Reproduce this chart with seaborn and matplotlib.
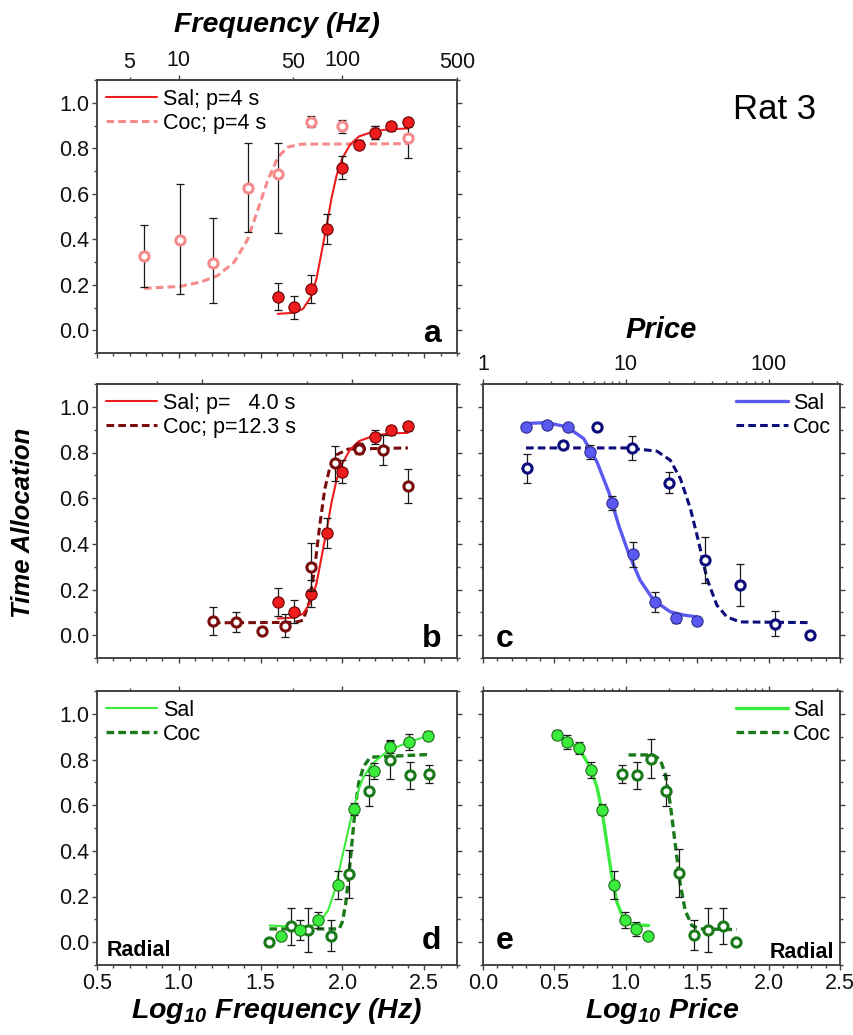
import numpy as np
import matplotlib
matplotlib.use("Agg")
import matplotlib.pyplot as plt
import seaborn as sns
from matplotlib.ticker import MultipleLocator

# ---------------- data ----------------
# Panel a : log10 frequency
a_sal_x = [1.605, 1.702, 1.806, 1.906, 1.998, 2.101, 2.199, 2.296, 2.400]
a_sal_y = [0.148, 0.101, 0.181, 0.446, 0.714, 0.816, 0.869, 0.897, 0.915]
a_sal_err = [0.06, 0.05, 0.06, 0.065, 0.05, 0.02, 0.03, 0.02, 0.02]
a_coc_x = [0.787, 1.008, 1.208, 1.421, 1.605, 1.806, 1.998, 2.199, 2.400]
a_coc_y = [0.326, 0.396, 0.294, 0.626, 0.688, 0.917, 0.896, 0.870, 0.843]
a_coc_err_lo = [0.138, 0.236, 0.174, 0.194, 0.260, 0.025, 0.030, 0.030, 0.087]
a_coc_err_hi = [0.138, 0.249, 0.199, 0.196, 0.134, 0.025, 0.030, 0.030, 0.087]
a_sal_fit_x = [1.605, 1.702, 1.759, 1.806, 1.841, 1.872, 1.906, 1.933, 1.964, 1.998, 2.046, 2.101, 2.199, 2.296, 2.400]
a_sal_fit_y = [0.072, 0.077, 0.094, 0.145, 0.225, 0.341, 0.470, 0.580, 0.680, 0.755, 0.815, 0.852, 0.876, 0.884, 0.887]
a_coc_fit_x = [0.787, 1.008, 1.135, 1.237, 1.339, 1.421, 1.483, 1.544, 1.605, 1.666, 1.749, 2.400]
a_coc_fit_y = [0.184, 0.193, 0.212, 0.240, 0.300, 0.400, 0.530, 0.660, 0.760, 0.805, 0.818, 0.820]

# Panel b
b_sal_x = [1.605, 1.702, 1.806, 1.906, 1.998, 2.101, 2.199, 2.296, 2.400]
b_sal_y = [0.146, 0.102, 0.182, 0.447, 0.715, 0.820, 0.869, 0.898, 0.915]
b_sal_err = [0.06, 0.05, 0.06, 0.065, 0.05, 0.02, 0.03, 0.02, 0.02]
b_coc_x = [1.208, 1.350, 1.509, 1.646, 1.806, 1.953, 2.101, 2.250, 2.400]
b_coc_y = [0.061, 0.058, 0.019, 0.041, 0.299, 0.752, 0.815, 0.810, 0.654]
b_coc_err = [0.062, 0.044, 0.015, 0.050, 0.104, 0.075, 0.020, 0.065, 0.075]
b_sal_fit_x = [1.605, 1.702, 1.759, 1.806, 1.841, 1.872, 1.906, 1.933, 1.964, 1.998, 2.046, 2.101, 2.199, 2.296, 2.400]
b_sal_fit_y = [0.073, 0.077, 0.094, 0.145, 0.225, 0.341, 0.470, 0.580, 0.680, 0.750, 0.812, 0.850, 0.875, 0.884, 0.886]
b_coc_fit_x = [1.208, 1.708, 1.759, 1.800, 1.831, 1.861, 1.892, 1.923, 1.964, 2.035, 2.400]
b_coc_fit_y = [0.054, 0.056, 0.065, 0.150, 0.300, 0.480, 0.640, 0.735, 0.790, 0.815, 0.820]

# Panel c : log10 price
c_sal_x = [0.301, 0.448, 0.595, 0.751, 0.903, 1.048, 1.202, 1.351, 1.498]
c_sal_y = [0.912, 0.920, 0.912, 0.803, 0.580, 0.355, 0.146, 0.073, 0.063]
c_sal_err = [0.01, 0.01, 0.01, 0.03, 0.03, 0.055, 0.045, 0.02, 0.015]
c_coc_x = [0.308, 0.558, 0.798, 1.043, 1.300, 1.552, 1.800, 2.047, 2.292]
c_coc_y = [0.730, 0.835, 0.912, 0.820, 0.667, 0.328, 0.219, 0.051, 0.000]
c_coc_err = [0.065, 0.015, 0.01, 0.052, 0.046, 0.100, 0.093, 0.053, 0.005]
c_sal_fit_x = [0.301, 0.448, 0.588, 0.705, 0.798, 0.880, 0.950, 1.020, 1.100, 1.195, 1.312, 1.405, 1.498]
c_sal_fit_y = [0.927, 0.931, 0.912, 0.861, 0.759, 0.628, 0.482, 0.358, 0.241, 0.153, 0.102, 0.088, 0.080]
c_coc_fit_x = [0.301, 1.008, 1.218, 1.312, 1.382, 1.452, 1.510, 1.568, 1.638, 1.708, 1.800, 2.292]
c_coc_fit_y = [0.820, 0.820, 0.806, 0.766, 0.686, 0.555, 0.409, 0.248, 0.131, 0.080, 0.058, 0.055]

# Panel d : log10 frequency (radial)
d_sal_x = [1.626, 1.738, 1.851, 1.970, 2.070, 2.193, 2.291, 2.408, 2.522]
d_sal_y = [0.025, 0.054, 0.098, 0.251, 0.584, 0.749, 0.854, 0.876, 0.905]
d_sal_err = [0.015, 0.045, 0.035, 0.06, 0.025, 0.035, 0.025, 0.035, 0.02]
d_coc_x = [1.554, 1.687, 1.790, 1.929, 2.040, 2.160, 2.290, 2.410, 2.530]
d_coc_y = [0.000, 0.069, 0.054, 0.029, 0.299, 0.664, 0.799, 0.730, 0.737]
d_coc_err = [0.01, 0.08, 0.095, 0.068, 0.105, 0.066, 0.085, 0.06, 0.04]
d_sal_fit_x = [1.554, 1.749, 1.851, 1.912, 1.953, 1.994, 2.020, 2.045, 2.070, 2.100, 2.127, 2.179, 2.280, 2.404, 2.527]
d_sal_fit_y = [0.073, 0.066, 0.077, 0.139, 0.226, 0.360, 0.440, 0.520, 0.590, 0.670, 0.720, 0.780, 0.839, 0.876, 0.905]
d_coc_fit_x = [1.554, 1.980, 2.000, 2.020, 2.040, 2.060, 2.080, 2.100, 2.130, 2.170, 2.530]
d_coc_fit_y = [0.058, 0.058, 0.090, 0.170, 0.300, 0.450, 0.600, 0.700, 0.770, 0.810, 0.822]

# Panel e : log10 price (radial)
e_sal_x = [0.518, 0.588, 0.669, 0.758, 0.833, 0.914, 0.991, 1.073, 1.154]
e_sal_y = [0.908, 0.876, 0.851, 0.752, 0.580, 0.251, 0.098, 0.058, 0.026]
e_sal_err = [0.02, 0.03, 0.025, 0.035, 0.025, 0.06, 0.035, 0.03, 0.01]
e_coc_x = [0.972, 1.077, 1.175, 1.280, 1.374, 1.481, 1.574, 1.679, 1.772]
e_coc_y = [0.737, 0.730, 0.803, 0.664, 0.302, 0.032, 0.054, 0.070, 0.000]
e_coc_err = [0.04, 0.06, 0.085, 0.066, 0.105, 0.066, 0.095, 0.08, 0.01]
e_sal_fit_x = [0.518, 0.611, 0.681, 0.751, 0.798, 0.833, 0.868, 0.903, 0.938, 0.984, 1.042, 1.159]
e_sal_fit_y = [0.912, 0.876, 0.839, 0.766, 0.679, 0.577, 0.431, 0.285, 0.175, 0.102, 0.077, 0.073]
e_coc_fit_x = [1.019, 1.190, 1.241, 1.276, 1.311, 1.346, 1.381, 1.416, 1.462, 1.521, 1.777]
e_coc_fit_y = [0.820, 0.820, 0.800, 0.737, 0.606, 0.431, 0.255, 0.139, 0.073, 0.058, 0.055]

freq_top_major = [10, 100]
freq_top_minor = [5, 50, 500]
price_top_major = [1, 10, 100]
price_top_minor = [2, 3, 4, 5, 6, 7, 8, 9, 20, 30, 40, 50, 60, 70, 80, 90, 200, 300]

# ---------------- style ----------------
sns.set_theme(style="ticks")
plt.rcParams["font.family"] = ["Liberation Sans", "DejaVu Sans"]
plt.rcParams["mathtext.fontset"] = "custom"
plt.rcParams["mathtext.bf"] = "Liberation Sans:italic:bold"
plt.rcParams["mathtext.rm"] = "Liberation Sans:italic:bold"
plt.rcParams["mathtext.it"] = "Liberation Sans:italic:bold"
plt.rcParams["lines.scale_dashes"] = False
plt.rcParams["text.color"] = "black"
plt.rcParams["legend.labelcolor"] = "black"

SPINE = "#444444"
ERR = "#1a1a1a"
W, H = 854, 1035
TICK_FS = 15.5
LEG_FS = 15.5
LAB_FS = 20.5

fig = plt.figure(figsize=(W / 100, H / 100), dpi=100)


def box(l, t, r, b):
    return [l / W, 1 - b / H, (r - l) / W, (b - t) / H]


axA = fig.add_axes(box(97, 80, 457, 353))
axB = fig.add_axes(box(97, 384, 457, 658))
axC = fig.add_axes(box(483, 384, 840, 658))
axD = fig.add_axes(box(97, 691, 457, 965))
axE = fig.add_axes(box(483, 691, 840, 965))


def style_axes(ax, xlim, xlabels, ylabels):
    ax.set_xlim(*xlim)
    ax.set_ylim(-0.1, 1.1)
    ax.xaxis.set_major_locator(MultipleLocator(0.5))
    ax.xaxis.set_minor_locator(MultipleLocator(0.1))
    ax.yaxis.set_major_locator(MultipleLocator(0.2))
    ax.yaxis.set_minor_locator(MultipleLocator(0.1))
    for s in ax.spines.values():
        s.set_visible(True)
        s.set_color(SPINE)
        s.set_linewidth(1.4)
    ax.tick_params(which="both", direction="out", left=True, right=True,
                   bottom=True, top=False, color=SPINE, width=1.0,
                   labelsize=TICK_FS, pad=2, labelcolor="#111111")
    ax.tick_params(which="major", length=3.8)
    ax.tick_params(which="minor", length=2.2)
    ax.tick_params(labelbottom=xlabels, labelleft=ylabels, labelright=False)
    ax.set_xlabel("")
    ax.set_ylabel("")
    ax.grid(False)


def top_axis(ax, major, minor, major_lab=None, minor_lab=None):
    sec = ax.secondary_xaxis("top")
    sec.set_xticks(major, labels=major_lab if major_lab else [""] * len(major))
    sec.set_xticks(minor, labels=minor_lab if minor_lab else [""] * len(minor), minor=True)
    sec.tick_params(which="both", direction="out", color=SPINE, width=1.0,
                    labelsize=TICK_FS, pad=3, labelcolor="#111111")
    sec.tick_params(which="major", length=3.8)
    sec.tick_params(which="minor", length=2.2)
    sec.spines["top"].set_color(SPINE)
    sec.spines["top"].set_linewidth(1.4)
    return sec


def points(ax, x, y, err, face, edge, lw, s, z):
    ax.errorbar(x, y, yerr=err, fmt="none", ecolor=ERR, elinewidth=0.9,
                capsize=2.6, capthick=0.9, zorder=z - 0.5)
    sns.scatterplot(x=x, y=y, ax=ax, color=face, edgecolor=edge, linewidth=lw,
                    s=s, zorder=z, legend=False)


def fit(ax, x, y, color, lw, dashed):
    sns.lineplot(x=x, y=y, ax=ax, color=color, linewidth=lw, sort=False,
                 estimator=None, legend=False)
    ln = ax.get_lines()[-1]
    if dashed:
        ln.set_dashes([5.5, 3.0])
    ln.set_zorder(3)
    return ln


def legend(ax, lines, labels, loc):
    ax.legend(lines, labels, loc=loc, frameon=False, fontsize=LEG_FS,
              handlelength=2.4, handletextpad=0.25, labelspacing=0.15,
              borderaxespad=0.2, borderpad=0.2, labelcolor="black")


RED = "#ee1c1c"
RED_EDGE = "#6a0000"
PINK = "#f48a8a"
MAROON = "#7a0c0c"
BLUE = "#5a5af2"
BLUE_EDGE = "#303090"
NAVY = "#0c0c7a"
GREEN = "#3cec3c"
GREEN_EDGE = "#1d6e1d"
DKGREEN = "#1a7a1a"

S_FILL = 66
S_OPEN = 44

# ---- panel a ----
style_axes(axA, (0.5, 2.7), False, True)
top_axis(axA, np.log10(freq_top_major), np.log10(freq_top_minor),
         [str(v) for v in freq_top_major], [str(v) for v in freq_top_minor])
lc = fit(axA, a_coc_fit_x, a_coc_fit_y, PINK, 2.2, True)
ls = fit(axA, a_sal_fit_x, a_sal_fit_y, RED, 1.5, False)
points(axA, a_coc_x, a_coc_y, [a_coc_err_lo, a_coc_err_hi], "white", PINK, 2.2, S_OPEN, 4)
points(axA, a_sal_x, a_sal_y, a_sal_err, RED, RED_EDGE, 0.8, S_FILL, 5)
legend(axA, [ls, lc], ["Sal; p=4 s", "Coc; p=4 s"], "upper left")
axA.text(0.956, 0.04, "a", transform=axA.transAxes, ha="right", va="baseline",
         fontsize=23, fontweight="bold")

# ---- panel b ----
style_axes(axB, (0.5, 2.7), False, True)
top_axis(axB, [1.144, 2.057], [0.867, 1.786])
lc = fit(axB, b_coc_fit_x, b_coc_fit_y, MAROON, 2.2, True)
ls = fit(axB, b_sal_fit_x, b_sal_fit_y, RED, 1.5, False)
points(axB, b_sal_x, b_sal_y, b_sal_err, RED, RED_EDGE, 0.8, S_FILL, 4)
points(axB, b_coc_x, b_coc_y, b_coc_err, "white", MAROON, 2.2, S_OPEN, 5)
legend(axB, [ls, lc], ["Sal; p=   4.0 s", "Coc; p=12.3 s"], "upper left")
axB.text(0.956, 0.04, "b", transform=axB.transAxes, ha="right", va="baseline",
         fontsize=23, fontweight="bold")

# ---- panel c ----
style_axes(axC, (0.0, 2.5), False, False)
top_axis(axC, np.log10(price_top_major), np.log10(price_top_minor),
         [str(v) for v in price_top_major], None)
lc = fit(axC, c_coc_fit_x, c_coc_fit_y, NAVY, 2.2, True)
ls = fit(axC, c_sal_fit_x, c_sal_fit_y, BLUE, 2.4, False)
points(axC, c_coc_x, c_coc_y, c_coc_err, "white", NAVY, 2.2, S_OPEN, 4)
points(axC, c_sal_x, c_sal_y, c_sal_err, BLUE, BLUE_EDGE, 0.8, S_FILL, 5)
legend(axC, [ls, lc], ["Sal", "Coc"], "upper right")
axC.text(0.036, 0.04, "c", transform=axC.transAxes, ha="left", va="baseline",
         fontsize=23, fontweight="bold")

# ---- panel d ----
style_axes(axD, (0.5, 2.7), True, True)
top_axis(axD, np.log10(freq_top_major), np.log10(freq_top_minor[:2]))
lc = fit(axD, d_coc_fit_x, d_coc_fit_y, DKGREEN, 2.4, True)
ls = fit(axD, d_sal_fit_x, d_sal_fit_y, GREEN, 1.5, False)
points(axD, d_coc_x, d_coc_y, d_coc_err, "white", DKGREEN, 2.2, S_OPEN, 4)
points(axD, d_sal_x, d_sal_y, d_sal_err, GREEN, GREEN_EDGE, 0.8, S_FILL, 5)
legend(axD, [ls, lc], ["Sal", "Coc"], "upper left")
axD.text(0.956, 0.058, "d", transform=axD.transAxes, ha="right", va="baseline",
         fontsize=23, fontweight="bold")
axD.text(0.028, 0.033, "Radial", transform=axD.transAxes, ha="left", va="baseline",
         fontsize=15.5, fontweight="bold")

# ---- panel e ----
style_axes(axE, (0.0, 2.5), True, False)
top_axis(axE, np.log10(price_top_major), np.log10(price_top_minor))
lc = fit(axE, e_coc_fit_x, e_coc_fit_y, DKGREEN, 2.4, True)
ls = fit(axE, e_sal_fit_x, e_sal_fit_y, GREEN, 2.4, False)
points(axE, e_coc_x, e_coc_y, e_coc_err, "white", DKGREEN, 2.2, S_OPEN, 4)
points(axE, e_sal_x, e_sal_y, e_sal_err, GREEN, GREEN_EDGE, 0.8, S_FILL, 5)
legend(axE, [ls, lc], ["Sal", "Coc"], "upper right")
axE.text(0.036, 0.058, "e", transform=axE.transAxes, ha="left", va="baseline",
         fontsize=23, fontweight="bold")
axE.text(0.983, 0.026, "Radial", transform=axE.transAxes, ha="right", va="baseline",
         fontsize=15.5, fontweight="bold")

# ---- figure texts ----
fig.text(277 / W, 1 - 32 / H, "Frequency (Hz)", ha="center", va="baseline",
         fontsize=LAB_FS, fontweight="bold", style="italic")
fig.text(661 / W, 1 - 338 / H, "Price", ha="center", va="baseline",
         fontsize=LAB_FS + 0.5, fontweight="bold", style="italic")
fig.text(277 / W, 1 - 1018 / H, r"$\mathbf{Log_{10}\ Frequency\ (Hz)}$",
         ha="center", va="baseline", fontsize=LAB_FS)
fig.text(662 / W, 1 - 1018 / H, r"$\mathbf{Log_{10}\ Price}$",
         ha="center", va="baseline", fontsize=LAB_FS)
fig.text(23 / W, 1 - 523 / H, "Time Allocation", rotation=90, ha="center",
         va="center", fontsize=18.5, fontweight="bold", style="italic")
fig.text(733 / W, 1 - 119 / H, "Rat 3", ha="left", va="baseline", fontsize=25)

fig.savefig("out.png", dpi=100, facecolor="white")
